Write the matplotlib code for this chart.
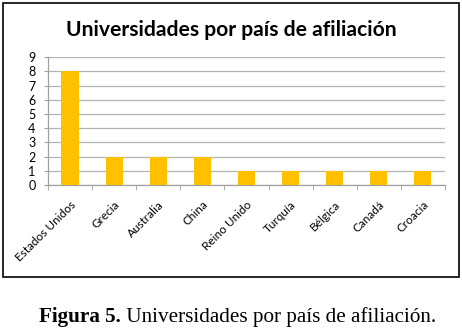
import matplotlib
matplotlib.use("Agg")
import matplotlib.pyplot as plt
from matplotlib.patches import Rectangle

# data
paises = ["Estados Unidos", "Grecia", "Australia", "China", "Reino Unido",
          "Turquía", "Bélgica", "Canadá", "Croacia"]
universidades = [8, 2, 2, 2, 1, 1, 1, 1, 1]
y_ticks = list(range(0, 10))

titulo = "Universidades por país de afiliación"
pie_bold = "Figura 5."
pie_texto = " Universidades por país de afiliación."

fig = plt.figure(figsize=(4.62, 3.32), dpi=100)
fig.patch.set_facecolor("white")

# outer chart frame
fig.patches.append(Rectangle((0.0075, 0.166), 0.985, 0.825, transform=fig.transFigure,
                             fill=False, edgecolor="black", linewidth=1.2, zorder=0))

ax = fig.add_axes([0.104, 0.443, 0.859, 0.385])
x = list(range(len(paises)))
ax.bar(x, universidades, width=0.39, color="#FFC000", zorder=3)

ax.set_xlim(-0.5, len(paises) - 0.5)
ax.set_ylim(0, 9)
ax.set_yticks(y_ticks)
ax.set_yticklabels([str(v) for v in y_ticks], fontsize=9, family="Lato")
ax.yaxis.grid(True, color="#b4b4b4", linewidth=0.9, zorder=0)

# category labels at centres, tick marks at category boundaries
ax.set_xticks(x)
ax.set_xticklabels(paises, rotation=45, ha="right", rotation_mode="anchor",
                   fontsize=8.5, family="Lato")
ax.tick_params(axis="x", length=0, pad=10)
ax.set_xticks([i - 0.5 for i in range(len(paises) + 1)], minor=True)
ax.tick_params(axis="x", which="minor", length=3.5, color="#a0a0a0")
ax.tick_params(axis="y", length=3, color="#a0a0a0", pad=6)

for s in ["top", "right"]:
    ax.spines[s].set_visible(False)
for s in ["left", "bottom"]:
    ax.spines[s].set_color("#a0a0a0")
    ax.spines[s].set_linewidth(0.9)

fig.text(0.5, 0.91, titulo, ha="center", va="center", fontsize=15.2,
         fontweight="bold", family="Lato")

# caption: bold part + regular part, serif
t1 = fig.text(0.085, 0.03, pie_bold, ha="left", va="baseline", fontsize=15.2,
              fontweight="bold", family="Liberation Serif")
fig.canvas.draw()
bb = t1.get_window_extent()
x2 = bb.x1 / fig.bbox.width
fig.text(x2, 0.03, pie_texto, ha="left", va="baseline", fontsize=15.2,
         family="Liberation Serif")

fig.savefig("out.png", dpi=100)
